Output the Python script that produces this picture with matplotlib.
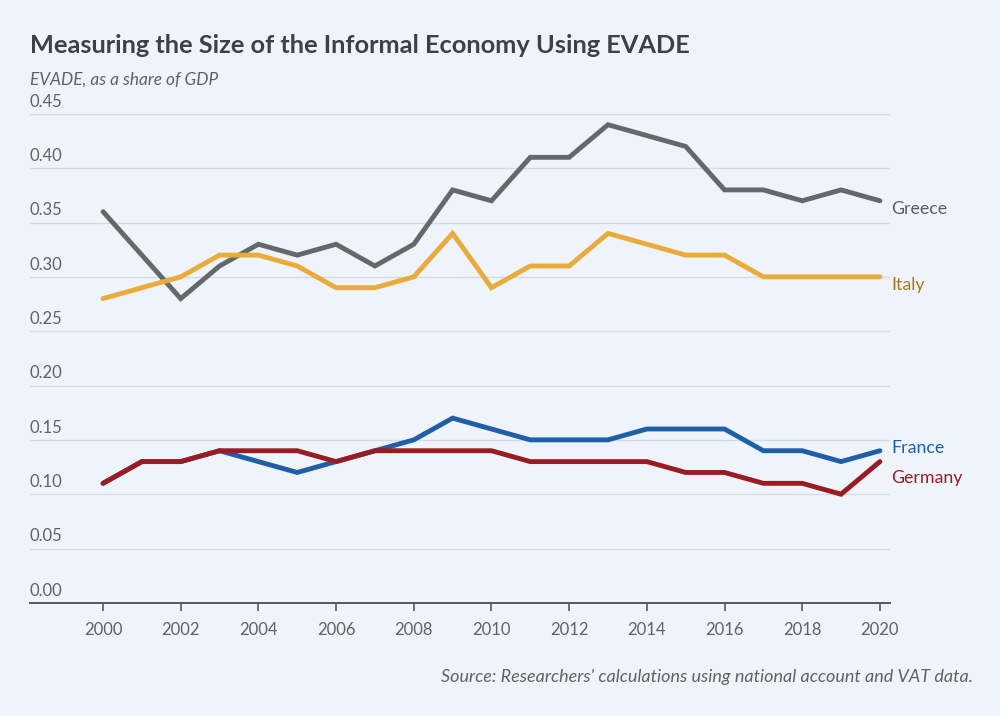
import matplotlib.pyplot as plt
import matplotlib.transforms as mtransforms
import numpy as np

plt.rcParams['font.family'] = ['Lato', 'DejaVu Sans']

years = list(range(2000, 2021))
greece = [0.36, 0.32, 0.28, 0.31, 0.33, 0.32, 0.33, 0.31, 0.33, 0.38, 0.37,
          0.41, 0.41, 0.44, 0.43, 0.42, 0.38, 0.38, 0.37, 0.38, 0.37]
italy = [0.28, 0.29, 0.30, 0.32, 0.32, 0.31, 0.29, 0.29, 0.30, 0.34, 0.29,
         0.31, 0.31, 0.34, 0.33, 0.32, 0.32, 0.30, 0.30, 0.30, 0.30]
france = [0.11, 0.13, 0.13, 0.14, 0.13, 0.12, 0.13, 0.14, 0.15, 0.17, 0.16,
          0.15, 0.15, 0.15, 0.16, 0.16, 0.16, 0.14, 0.14, 0.13, 0.14]
germany = [0.11, 0.13, 0.13, 0.14, 0.14, 0.14, 0.13, 0.14, 0.14, 0.14, 0.14,
           0.13, 0.13, 0.13, 0.13, 0.12, 0.12, 0.11, 0.11, 0.10, 0.13]

yticks = [0.00, 0.05, 0.10, 0.15, 0.20, 0.25, 0.30, 0.35, 0.40, 0.45]
xticks = list(range(2000, 2021, 2))

bg = '#eff4fa'
fig = plt.figure(figsize=(10, 7.16), dpi=100, facecolor=bg)
ax = fig.add_axes([0.03, 0.158, 0.86, 0.683])
ax.set_facecolor(bg)

# series: (values, line colour, label colour, label offset in points)
series = [
    ('Greece', greece, '#64686c', '#5b5f63', -6),
    ('Italy', italy, '#e9ab3c', '#a57a22', -6),
    ('France', france, '#1f5fa8', '#1f5fa8', 2),
    ('Germany', germany, '#9a1b22', '#9a1b22', -12),
]

for name, vals, c, tc, dy in series:
    ax.plot(years, vals, color=c, lw=3.5, solid_capstyle='round',
            solid_joinstyle='miter', zorder=3)

for name, vals, c, tc, dy in series:
    ax.annotate(name, xy=(years[-1], vals[-1]), xytext=(8, dy),
                textcoords='offset points', color=tc, fontsize=12.8,
                va='center', ha='left', annotation_clip=False)

ax.set_xlim(1998.12, 2020.26)
ax.set_ylim(0, 0.45)

# grid lines and y labels above them
for v in yticks[1:]:
    ax.axhline(v, color='#d5dbe1', lw=1, zorder=1)
offset = mtransforms.offset_copy(ax.get_yaxis_transform(), fig=fig, x=0, y=3, units='points')
for v in yticks:
    ax.text(0, v, f'{v:.2f}', transform=offset, ha='left', va='bottom',
            fontsize=12, color='#5f6368')
ax.set_yticks([])

ax.set_xticks(xticks)
ax.set_xticklabels([str(x) for x in xticks], fontsize=12, color='#5f6368')
ax.tick_params(axis='x', length=6, width=1.2, color='#555a5f', pad=8)

for s in ['top', 'right', 'left']:
    ax.spines[s].set_visible(False)
ax.spines['bottom'].set_color('#555a5f')
ax.spines['bottom'].set_linewidth(1.4)

fig.text(0.03, 0.937, 'Measuring the Size of the Informal Economy Using EVADE',
         fontsize=18.3, fontweight='bold', color='#3b4147', va='center', ha='left')
fig.text(0.03, 0.889, 'EVADE, as a share of GDP', fontsize=12.4, style='italic',
         color='#5f6368', va='center', ha='left')
fig.text(0.973, 0.054, "Source: Researchers' calculations using national account and VAT data.",
         fontsize=13, style='italic', color='#5f6368', va='center', ha='right')

fig.savefig('out.png', dpi=100, facecolor=bg)
